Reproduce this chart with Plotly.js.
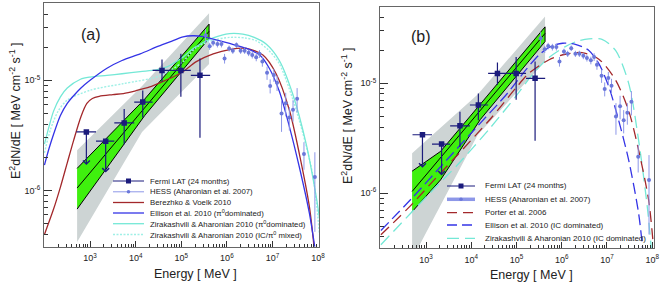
<!DOCTYPE html>
<html><head><meta charset="utf-8">
<script src="https://cdn.plot.ly/plotly-3.0.1.min.js"></script>
<style>html,body{margin:0;padding:0;background:#fff}#plot{width:664px;height:290px}</style>
</head><body><div id="plot"></div>
<script>
// ---------------- data ----------------
// Fermi LAT (24 months)
const fermiE    = [830, 2200, 5600, 14300, 37800, 98000, 257000];
const fermiF    = [3.4e-6, 2.8e-6, 4.1e-6, 6.35e-6, 1.23e-5, 1.23e-5, 1.11e-5];
const fermiEmin = [500, 1350, 3400, 9300, 23500, 62000, 162000];
const fermiEmax = [1350, 3400, 9300, 23500, 62000, 162000, 430000];
const fermiFmax = [null, null, 5.5e-6, 8.1e-6, 1.55e-5, 1.74e-5, 1.58e-5];
const fermiFmin = [1.7e-6, 1.45e-6, 2.63e-6, 4.6e-6, 9.7e-6, 7.1e-6, 3.0e-6];
const fermiUL   = [true, true, false, false, false, false, false];

// HESS (Aharonian et al. 2007)
const hessE = [3.4e5, 4.2e5, 5.0e5, 6.2e5, 7.6e5, 8.9e5, 1.12e6, 1.35e6, 1.62e6, 2.0e6, 2.45e6, 3.0e6, 3.6e6, 4.4e6, 5.2e6, 6.0e6, 7.6e6, 8.9e6, 1.07e7, 1.26e7, 1.58e7, 1.95e7, 2.34e7, 2.82e7, 3.47e7, 4.9e7, 8.5e7];
const hessF = [2.57e-5, 2.04e-5, 2.19e-5, 2.14e-5, 2.14e-5, 1.58e-5, 1.95e-5, 1.86e-5, 2.09e-5, 1.86e-5, 1.86e-5, 1.78e-5, 1.70e-5, 1.62e-5, 1.74e-5, 1.48e-5, 1.17e-5, 8.9e-6, 1.12e-5, 9.5e-6, 5.0e-6, 6.2e-6, 4.6e-6, 5.4e-6, 6.8e-6, 2.14e-6, 1.32e-6];
const hessErr = [3.5e-6, 1.5e-6, 1.5e-6, 1.5e-6, 1.5e-6, 1.6e-6, 1.2e-6, 1.2e-6, 1.2e-6, 1.2e-6, 1.2e-6, 1.2e-6, 1.2e-6, 1.3e-6, 1.4e-6, 1.5e-6, 1.6e-6, 1.3e-6, 1.5e-6, 1.5e-6, 1.6e-6, 1.5e-6, 1.1e-6, 1.2e-6, 1.7e-6, 0.6e-6, 0.9e-6];

// Fermi spectral bands (panel a)
const bandA_E  = [520, 15800, 407000];
const bandA_hi = [1.585e-6, 6.76e-6, 3.24e-5];
const bandA_lo = [6.76e-7, 4.79e-6, 2.40e-5];
const lineA_E  = [520, 407000];
const lineA_F  = [1.05e-6, 2.79e-5];
const grayA_E  = [520, 13800, 407000];
const grayA_hi = [2.31e-6, 8.9e-6, 4.07e-5];
const grayA_lo = [3.39e-7, 3.39e-6, 1.41e-5];
// Fermi spectral bands (panel b)
const bandB_E  = [490, 2090, 15800, 427000];
const bandB_hi = [1.585e-6, 2.40e-6, 6.46e-6, 3.27e-5];
const bandB_lo = [6.76e-7, 1.32e-6, 4.68e-6, 2.40e-5];
const lineB_E  = [490, 427000];
const lineB_F  = [1.035e-6, 2.85e-5];
const grayB_E  = [490, 13800, 427000];
const grayB_hi = [2.31e-6, 7.9e-6, 4.07e-5];
const grayB_lo = [2.5e-7, 3.39e-6, 1.58e-5];

// model curves (log10 E [MeV], log10 E^2dN/dE)
const berezhkoLogE = [2.0, 2.2, 2.35, 2.5, 2.64, 2.8, 2.93, 3.05, 3.2, 3.5, 3.73, 4.0, 4.31, 4.6, 4.82, 5.04, 5.33, 5.7, 6.06, 6.43, 6.79, 7.08, 7.37, 7.59, 7.81, 7.92];
const berezhkoLogF = [-6.40, -6.17, -5.97, -5.75, -5.545, -5.33, -5.21, -5.165, -5.145, -5.13, -5.12, -5.095, -5.06, -5.01, -4.97, -4.92, -4.83, -4.76, -4.72, -4.71, -4.77, -4.94, -5.27, -5.67, -6.15, -6.55];
const ellisonPiLogE = [2.0, 2.1, 2.2, 2.35, 2.5, 2.64, 2.8, 3.0, 3.37, 3.7, 4.1, 4.5, 4.82, 5.04, 5.25, 5.45, 5.7, 6.06, 6.43, 6.72, 6.93, 7.15, 7.37, 7.59, 7.81, 7.94];
const ellisonPiLogF = [-5.77, -5.62, -5.49, -5.32, -5.21, -5.14, -5.07, -5.0, -4.89, -4.82, -4.76, -4.69, -4.64, -4.605, -4.595, -4.60, -4.625, -4.665, -4.71, -4.77, -4.89, -5.10, -5.42, -5.79, -6.21, -6.55];
const ziraPiLogE = [2.0, 2.1, 2.2, 2.35, 2.5, 2.79, 3.0, 3.37, 3.7, 4.1, 4.45, 4.7, 5.0, 5.3, 5.7, 6.06, 6.35, 6.6, 6.86, 7.15, 7.44, 7.74, 7.96, 8.03];
const ziraPiLogF = [-5.58, -5.42, -5.28, -5.15, -5.07, -4.99, -4.97, -4.955, -4.94, -4.92, -4.905, -4.875, -4.80, -4.70, -4.615, -4.575, -4.58, -4.61, -4.67, -4.82, -5.12, -5.58, -6.06, -6.25];
const ziraMixLogE = [2.0, 2.13, 2.3, 2.5, 3.0, 3.73, 4.46, 4.8, 5.04, 5.33, 5.7, 6.06, 6.4, 6.64, 6.9, 7.15, 7.52, 7.88, 8.03];
const ziraMixLogF = [-5.66, -5.45, -5.28, -5.18, -5.09, -5.03, -4.97, -4.90, -4.83, -4.70, -4.635, -4.61, -4.615, -4.64, -4.72, -4.85, -5.27, -5.85, -6.4];
const porterLogE = [2.0, 2.69, 3.2, 3.70, 4.43, 4.99, 5.27, 5.72, 6.08, 6.45, 6.82, 7.19, 7.48, 7.70, 7.92, 8.02];
const porterLogF = [-6.38, -6.10, -5.87, -5.65, -5.32, -5.04, -4.91, -4.785, -4.735, -4.72, -4.78, -4.97, -5.25, -5.61, -6.06, -6.45];
const ellisonICLogE = [2.0, 2.69, 3.33, 4.07, 4.8, 5.2, 5.5, 5.75, 6.02, 6.3, 6.60, 6.82, 7.04, 7.26, 7.48, 7.70, 7.80];
const ellisonICLogF = [-6.34, -6.045, -5.755, -5.42, -5.09, -4.88, -4.74, -4.665, -4.635, -4.645, -4.70, -4.82, -5.03, -5.34, -5.70, -6.185, -6.55];
const ziraICLogE = [2.0, 2.69, 3.2, 3.70, 4.43, 5.0, 5.35, 5.7, 6.08, 6.35, 6.60, 6.89, 7.19, 7.48, 7.70, 7.89, 7.99];
const ziraICLogF = [-6.47, -6.17, -5.95, -5.74, -5.40, -5.11, -4.92, -4.77, -4.665, -4.615, -4.595, -4.60, -4.70, -5.0, -5.52, -6.12, -6.55];

// tick labels
const xTickVals = [1e3, 1e4, 1e5, 1e6, 1e7, 1e8];
const xTickText = ['10<sup>3</sup>', '10<sup>4</sup>', '10<sup>5</sup>', '10<sup>6</sup>', '10<sup>7</sup>', '10<sup>8</sup>'];
const yTickVals = [1e-6, 1e-5];
const yTickText = ['10<sup>-6</sup>', '10<sup>-5</sup>'];

// legend labels
const legendA = ['Fermi LAT (24 months)', 'HESS (Aharonian et al. 2007)', 'Berezhko &amp; Voelk 2010',
  'Ellison et al. 2010 (\u03c0<sup>0</sup>dominated)', 'Zirakashvili &amp; Aharonian 2010 (\u03c0<sup>0</sup>dominated)',
  'Zirakashvili &amp; Aharonian 2010 (IC/\u03c0<sup>0</sup> mixed)'];
const legendB = ['Fermi LAT (24 months)', 'HESS (Aharonian et al. 2007)', 'Porter et al. 2006',
  'Ellison et al. 2010 (IC dominated)', 'Zirakashvili &amp; Aharonian 2010 (IC dominated)'];

// ---------------- styles ----------------
const C = {
  fermi: '#1b1b7c', hess: '#6b78da', hessErr: '#8d97e8',
  red: '#a3282b', blue: '#3434e6', cyan: '#74e8d6', cyanDot: '#9ff0e6',
  green: '#3ff00e', gray: '#cdd4d4'
};
const W = 664, H = 290;
const px = v => v / W, py = v => 1 - v / H;
const pow10 = a => a.map(v => Math.pow(10, v));

function poly(E, hi, lo) {
  return { x: E.concat(E.slice().reverse()), y: hi.concat(lo.slice().reverse()) };
}

const traces = [];
function addPanel(xa, ya, gray, band, line, curves) {
  const g = poly(gray.E, gray.hi, gray.lo);
  traces.push({ x: g.x, y: g.y, xaxis: xa, yaxis: ya, mode: 'lines', fill: 'toself',
    fillcolor: C.gray, line: { width: 0, color: C.gray }, hoverinfo: 'skip' });
  const b = poly(band.E, band.hi, band.lo);
  traces.push({ x: b.x, y: b.y, xaxis: xa, yaxis: ya, mode: 'lines', fill: 'toself',
    fillcolor: C.green, line: { width: 1, color: '#000' }, hoverinfo: 'skip' });
  traces.push({ x: line.E, y: line.F, xaxis: xa, yaxis: ya, mode: 'lines',
    line: { width: 1, color: '#000' }, hoverinfo: 'skip' });
  curves.forEach(c => traces.push({ x: pow10(c.e), y: pow10(c.f), xaxis: xa, yaxis: ya, mode: 'lines',
    line: { width: c.w || 1.3, color: c.color, dash: c.dash || 'solid', shape: 'spline', smoothing: 0.8 } }));
  traces.push({ x: hessE, y: hessF, xaxis: xa, yaxis: ya, mode: 'markers',
    marker: { symbol: 'circle', size: 4, color: C.hess },
    error_y: { type: 'data', array: hessErr, color: C.hessErr, thickness: 1, width: 0 } });
  traces.push({ x: fermiE, y: fermiF, xaxis: xa, yaxis: ya, mode: 'markers',
    marker: { symbol: 'square', size: 5.5, color: C.fermi },
    error_x: { type: 'data', symmetric: false, array: fermiE.map((e, i) => fermiEmax[i] - e),
      arrayminus: fermiE.map((e, i) => e - fermiEmin[i]), color: C.fermi, thickness: 1.2, width: 0 },
    error_y: { type: 'data', symmetric: false,
      array: fermiF.map((f, i) => fermiUL[i] ? 0 : fermiFmax[i] - f),
      arrayminus: fermiF.map((f, i) => fermiUL[i] ? 0 : f - fermiFmin[i]), color: C.fermi, thickness: 1.2, width: 0 } });
}

addPanel('x', 'y', { E: grayA_E, hi: grayA_hi, lo: grayA_lo }, { E: bandA_E, hi: bandA_hi, lo: bandA_lo },
  { E: lineA_E, F: lineA_F }, [
    { e: ziraMixLogE, f: ziraMixLogF, color: C.cyanDot, dash: '2px,1.5px', w: 1.4 },
    { e: ziraPiLogE, f: ziraPiLogF, color: C.cyan },
    { e: berezhkoLogE, f: berezhkoLogF, color: C.red },
    { e: ellisonPiLogE, f: ellisonPiLogF, color: C.blue }
  ]);
addPanel('x2', 'y2', { E: grayB_E, hi: grayB_hi, lo: grayB_lo }, { E: bandB_E, hi: bandB_hi, lo: bandB_lo },
  { E: lineB_E, F: lineB_F }, [
    { e: ziraICLogE, f: ziraICLogF, color: C.cyan, dash: '12px,6px' },
    { e: porterLogE, f: porterLogF, color: C.red, dash: '11px,6px' },
    { e: ellisonICLogE, f: ellisonICLogF, color: C.blue, dash: '11px,5px' }
  ]);

// ---------------- annotations & shapes ----------------
const font = 'Liberation Sans, Arial, Helvetica, sans-serif';
const annotations = [];
const shapes = [];

// upper-limit arrows
[['x', 'y'], ['x2', 'y2']].forEach(([xa, ya]) => {
  fermiE.forEach((e, i) => {
    if (!fermiUL[i]) return;
    annotations.push({ xref: xa, yref: ya, axref: xa, ayref: ya, x: Math.log10(e), y: Math.log10(fermiFmin[i]),
      ax: Math.log10(e), ay: Math.log10(fermiF[i]), text: '', showarrow: true, arrowhead: 4, arrowsize: 1.1,
      arrowwidth: 1.2, arrowcolor: C.fermi, standoff: 0, startstandoff: 0 });
  });
});

function txt(x, y, text, size, opts) {
  annotations.push(Object.assign({ xref: 'paper', yref: 'paper', x: px(x), y: py(y), text: text, showarrow: false,
    xanchor: 'center', yanchor: 'middle', font: { family: font, size: size, color: '#222' } }, opts || {}));
}
txt(91, 34, '(a)', 16);
txt(421, 36, '(b)', 16);
txt(195, 274, 'Energy [ MeV ]', 12.5);
txt(531, 275, 'Energy [ MeV ]', 12.5);
const yTitle = 'E<sup>2</sup>dN/dE [ MeV cm<sup>-2</sup> s<sup>-1</sup> ]';
txt(15, 111, yTitle, 12.5, { textangle: -90 });
txt(347, 116, yTitle, 12.5, { textangle: -90 });

// legends
function legend(rows, x0, x1, xt, labels, styles, fs) {
  labels.forEach((lab, i) => {
    const y = rows[i], s = styles[i];
    shapes.push({ type: 'line', xref: 'paper', yref: 'paper', x0: px(x0), x1: px(x1), y0: py(y), y1: py(y),
      line: { color: s.color, width: s.w || 1.3, dash: s.dash || 'solid' } });
    const xm = (x0 + x1) / 2;
    if (s.mark === 'sq') shapes.push({ type: 'rect', xref: 'paper', yref: 'paper', x0: px(xm - 2.5), x1: px(xm + 2.5),
      y0: py(y + 2.5), y1: py(y - 2.5), fillcolor: C.fermi, line: { width: 0 } });
    if (s.mark === 'dot') shapes.push({ type: 'circle', xref: 'paper', yref: 'paper', x0: px(xm - 1.8), x1: px(xm + 1.8),
      y0: py(y + 1.8), y1: py(y - 1.8), fillcolor: C.hess, line: { width: 0 } });
    txt(xt, y, lab, fs, { xanchor: 'left' });
  });
}
legend([181, 191.8, 202.5, 213, 223.7, 234.5], 113, 144, 148, legendA, [
  { color: C.fermi, mark: 'sq', w: 1 }, { color: C.hessErr, mark: 'dot', w: 1 }, { color: C.red },
  { color: C.blue }, { color: C.cyan }, { color: C.cyanDot, dash: '2px,1.5px', w: 1.4 }], 7.8);
legend([186, 199.3, 212.7, 225, 238.3], 447, 475, 483, legendB, [
  { color: C.fermi, mark: 'sq', w: 1 }, { color: C.hessErr, mark: 'dot', w: 3.5 }, { color: C.red, dash: '10px,6px' },
  { color: C.blue, dash: '10px,5px' }, { color: C.cyan, dash: '12px,6px' }], 8);

// ---------------- axes ----------------
const minorX = [];
for (let d = 2; d <= 7; d++) for (let k = 2; k <= 9; k++) minorX.push(k * Math.pow(10, d));
const minorY = [];
for (let d = -7; d <= -5; d++) for (let k = 2; k <= 9; k++) minorY.push(k * Math.pow(10, d));

function xaxis(domain, range, anchor) {
  return { domain: domain, range: range, type: 'log', anchor: anchor, tickmode: 'array', tickvals: xTickVals,
    ticktext: xTickText, ticks: 'inside', ticklen: 6, tickcolor: '#333', tickwidth: 1, showgrid: false, zeroline: false,
    showline: true, mirror: true, linecolor: '#666', linewidth: 1, ticklabelstandoff: 3,
    tickfont: { family: font, size: 9, color: '#222' },
    minor: { tickmode: 'array', tickvals: minorX, ticks: 'inside', ticklen: 3, tickcolor: '#333', tickwidth: 1, showgrid: false } };
}
function yaxis(domain, range, anchor) {
  return { domain: domain, range: range, type: 'log', anchor: anchor, tickmode: 'array', tickvals: yTickVals,
    ticktext: yTickText, ticks: 'inside', ticklen: 8, tickcolor: '#333', tickwidth: 1, showgrid: false, zeroline: false,
    showline: true, mirror: true, linecolor: '#666', linewidth: 1, ticklabelstandoff: 1,
    tickfont: { family: font, size: 9, color: '#222' },
    minor: { tickmode: 'array', tickvals: minorY, ticks: 'inside', ticklen: 4, tickcolor: '#333', tickwidth: 1, showgrid: false } };
}

const layout = {
  width: W, height: H, margin: { l: 0, r: 0, t: 0, b: 0 }, showlegend: false,
  paper_bgcolor: '#fff', plot_bgcolor: '#fff',
  xaxis: xaxis([px(44), px(319)], [1.99, 8.02], 'y'),
  yaxis: yaxis([1 - 246.5 / H, 1 - 3.3 / H], [-6.51, -4.30], 'x'),
  xaxis2: xaxis([px(380), px(654)], [1.98, 8.04], 'y2'),
  yaxis2: yaxis([1 - 248 / H, 1 - 6.5 / H], [-6.50, -4.30], 'x2'),
  annotations: annotations, shapes: shapes
};

Plotly.newPlot('plot', traces, layout, { staticPlot: true, displayModeBar: false });
</script></body></html>
